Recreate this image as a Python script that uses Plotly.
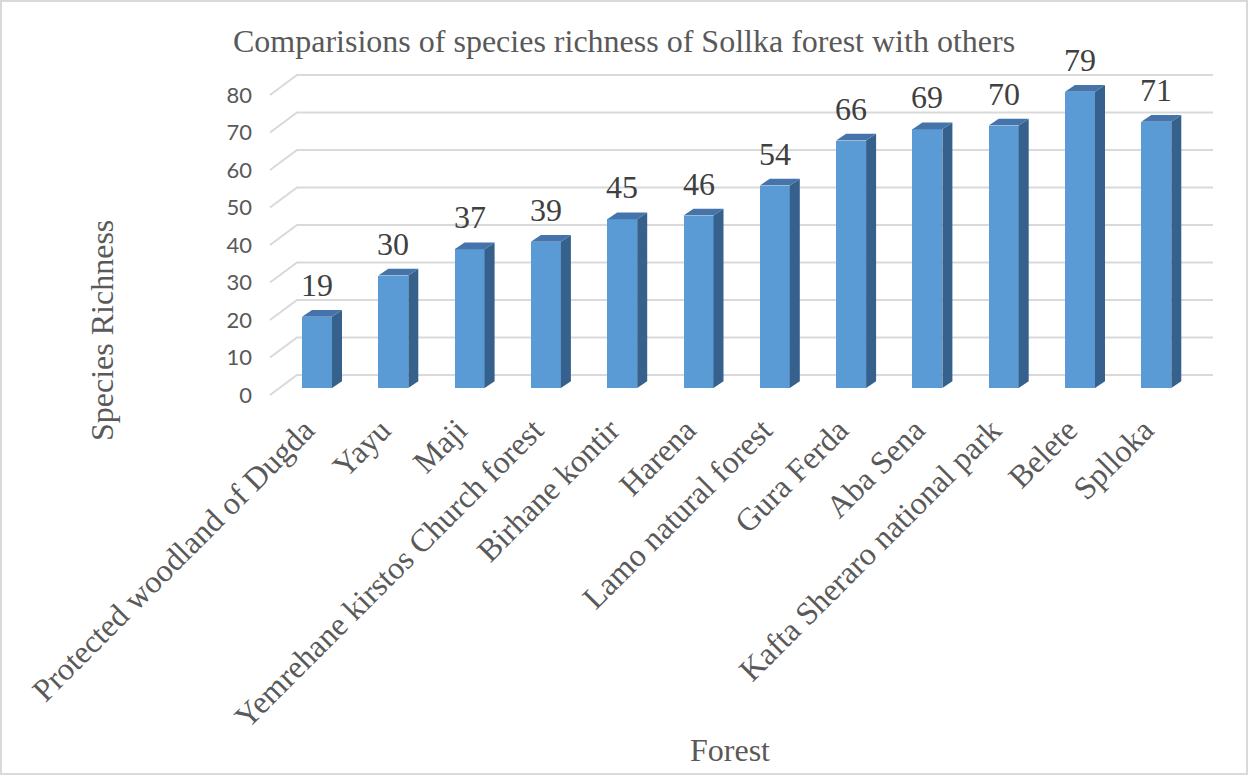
import plotly.graph_objects as go

# ---- data -------------------------------------------------------------
forests = [
    "Protected woodland of Dugda", "Yayu", "Maji",
    "Yemrehane kirstos Church forest", "Birhane kontir", "Harena",
    "Lamo natural forest", "Gura Ferda", "Aba Sena",
    "Kafta Sheraro national park", "Belete", "Splloka",
]
richness = [19, 30, 37, 39, 45, 46, 54, 66, 69, 70, 79, 71]
y_ticks = [0, 10, 20, 30, 40, 50, 60, 70, 80]

# ---- page geometry (pixels) ------------------------------------------
W, H = 1249, 776
L, R, T, B = 258, 1225, 60, 404          # plot-area box
CAT_PX = 76.3                            # pixels per category step
X0_PX = 317                              # centre of the first column
VAL_PX = 3.75                            # pixels per unit of richness
BASE_PX = 388                            # column front base line
LABEL_NUDGE = 12 / CAT_PX                # category labels sit a bit left


def xu(px):
    """pixel column -> category units"""
    return (px - X0_PX) / CAT_PX


def px_paper_x(px):
    return (px - L) / (R - L)


def px_paper_y(py):
    return (B - py) / (B - T)


x_range = [xu(L), xu(R)]
y_range = [-(B - BASE_PX) / VAL_PX, (BASE_PX - T) / VAL_PX]

BAR_W = 30 / CAT_PX          # width of a column front face
DEPTH_X = 10 / CAT_PX        # pseudo-3D depth of a column
DEPTH_Y = 6.7 / VAL_PX
WALL_DY = 13 / VAL_PX        # back wall sits above the column base
FRONT_DY = 7 / VAL_PX        # front floor edge sits below the column base
wall_x0, wall_x1, front_x = xu(297), xu(1213), xu(270)

FRONT = "#5B9BD5"
TOP = "#4474A9"
SIDE = "#36618C"
GRID = "#D9D9D9"
TXT = "#595959"
SERIF = "Liberation Serif, Times New Roman, serif"

idx = list(range(len(forests)))

fig = go.Figure()

# front faces
fig.add_trace(go.Bar(
    x=idx, y=richness, width=BAR_W,
    marker=dict(color=FRONT, line=dict(width=0)),
    hoverinfo="skip", showlegend=False,
))

# side faces
sx, sy = [], []
for i, v in zip(idx, richness):
    xr = i + BAR_W / 2
    sx += [xr, xr, xr + DEPTH_X, xr + DEPTH_X, xr, None]
    sy += [0, v, v + DEPTH_Y, DEPTH_Y, 0, None]
fig.add_trace(go.Scatter(
    x=sx, y=sy, mode="lines", fill="toself", fillcolor=SIDE,
    line=dict(width=0, color=SIDE), hoverinfo="skip", showlegend=False,
))

# top faces
tx, ty = [], []
for i, v in zip(idx, richness):
    xl, xr = i - BAR_W / 2, i + BAR_W / 2
    tx += [xl, xr, xr + DEPTH_X, xl + DEPTH_X, xl, None]
    ty += [v, v, v + DEPTH_Y, v + DEPTH_Y, v, None]
fig.add_trace(go.Scatter(
    x=tx, y=ty, mode="lines", fill="toself", fillcolor=TOP,
    line=dict(width=0, color=TOP), hoverinfo="skip", showlegend=False,
))

# gridlines: short floor diagonal plus the back-wall line
shapes = []
for v in y_ticks:
    shapes.append(dict(
        type="path", xref="x", yref="y", layer="below",
        path=(f"M {front_x},{v - FRONT_DY} L {wall_x0},{v + WALL_DY} "
              f"L {wall_x1},{v + WALL_DY}"),
        line=dict(color=GRID, width=2),
    ))

# outer chart border
shapes.append(dict(
    type="rect", xref="paper", yref="paper", layer="below",
    x0=px_paper_x(1), x1=px_paper_x(1247),
    y0=px_paper_y(774), y1=px_paper_y(1),
    line=dict(color=GRID, width=2), fillcolor="rgba(0,0,0,0)",
))

annotations = []
for i, v in zip(idx, richness):
    annotations.append(dict(
        x=i, y=v, xref="x", yref="y", text=str(v), showarrow=False,
        yanchor="bottom", yshift=12,
        font=dict(family=SERIF, size=32, color="#404040"),
    ))

annotations += [
    dict(text="Comparisions of species richness of Sollka forest with others",
         x=px_paper_x(624), y=px_paper_y(41), xref="paper", yref="paper",
         showarrow=False, xanchor="center", yanchor="middle",
         font=dict(family=SERIF, size=32, color=TXT)),
    dict(text="Species Richness", textangle=-90,
         x=px_paper_x(102), y=px_paper_y(331), xref="paper", yref="paper",
         showarrow=False, xanchor="center", yanchor="middle",
         font=dict(family=SERIF, size=32, color=TXT)),
    dict(text="Forest",
         x=px_paper_x(730), y=px_paper_y(750), xref="paper", yref="paper",
         showarrow=False, xanchor="center", yanchor="middle",
         font=dict(family=SERIF, size=32, color=TXT)),
]

fig.update_layout(
    width=W, height=H,
    margin=dict(l=L, r=W - R, t=T, b=H - B, autoexpand=False),
    paper_bgcolor="white", plot_bgcolor="white",
    shapes=shapes, annotations=annotations,
    bargap=0, showlegend=False,
    xaxis=dict(
        range=x_range, tickmode="array",
        tickvals=[i - LABEL_NUDGE for i in idx], ticktext=forests,
        tickangle=-45, showgrid=False, zeroline=False, showline=False,
        ticks="", automargin=False,
        tickfont=dict(family=SERIF, size=32, color=TXT),
    ),
    yaxis=dict(
        range=y_range, tickmode="array",
        tickvals=[v - FRONT_DY for v in y_ticks],
        ticktext=[str(v) for v in y_ticks],
        showgrid=False, zeroline=False, showline=False, ticks="",
        automargin=False, ticklabelstandoff=5,
        tickfont=dict(family="Lato, Carlito, sans-serif", size=22, color=TXT),
    ),
)

fig.write_html("out.html")
